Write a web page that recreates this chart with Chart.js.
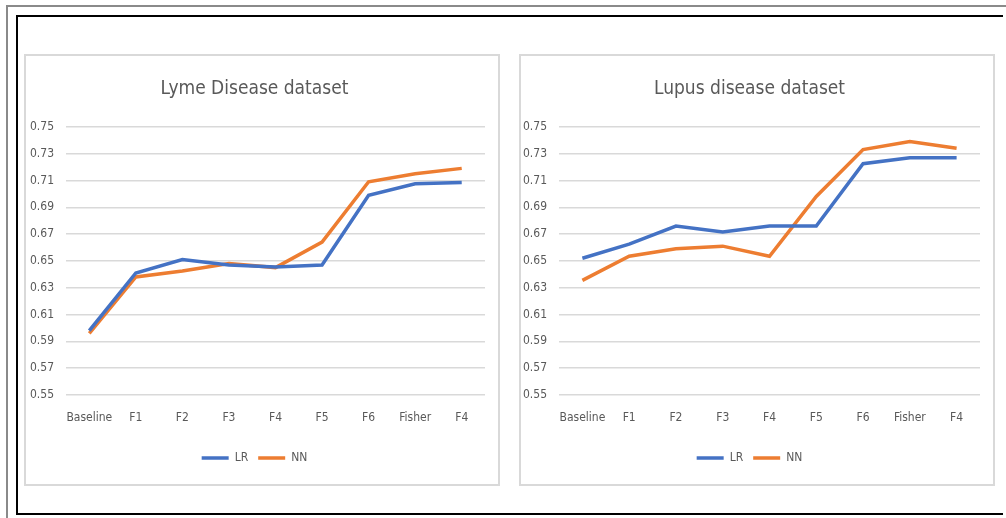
<!DOCTYPE html>
<html>
<head>
<meta charset="utf-8">
<script src="https://cdn.jsdelivr.net/npm/chart.js@4.4.1/dist/chart.umd.min.js"></script>
<style>
  html, body { margin: 0; padding: 0; background: #fff; }
  body { width: 1006px; height: 518px; position: relative; overflow: hidden; }
  .ln { position: absolute; }
  .box { position: absolute; box-sizing: border-box; border: 2px solid #d9d9d9; }
  .cv { position: absolute; width: 476px; height: 432px; }
</style>
</head>
<body>
<!-- page frame -->
<div class="ln" style="left:6px;top:5px;width:1000px;height:2px;background:#8a8a8a"></div>
<div class="ln" style="left:6px;top:5px;width:2px;height:513px;background:#8a8a8a"></div>
<div class="ln" style="left:16px;top:15px;width:987px;height:2px;background:#000"></div>
<div class="ln" style="left:16px;top:15px;width:2px;height:500px;background:#000"></div>
<div class="ln" style="left:16px;top:513px;width:987px;height:2px;background:#000"></div>

<div class="box" style="left:24px;top:54px;width:476px;height:432px"></div>
<div class="box" style="left:519px;top:54px;width:476px;height:432px"></div>
<div class="cv" style="left:24px;top:54px"><canvas id="lymeChart" width="476" height="432"></canvas></div>
<div class="cv" style="left:519px;top:54px"><canvas id="lupusChart" width="476" height="432"></canvas></div>

<script>
const categories = ['Baseline', 'F1', 'F2', 'F3', 'F4', 'F5', 'F6', 'Fisher', 'F4'];
const yTicks = [0.55, 0.57, 0.59, 0.61, 0.63, 0.65, 0.67, 0.69, 0.71, 0.73, 0.75];

const lymeLR = [0.598, 0.641, 0.651, 0.647, 0.6455, 0.647, 0.699, 0.7075, 0.7085];
const lymeNN = [0.596, 0.638, 0.6425, 0.648, 0.645, 0.664, 0.709, 0.715, 0.719];

const lupusLR = [0.652, 0.6625, 0.676, 0.6715, 0.676, 0.676, 0.7225, 0.727, 0.727];
const lupusNN = [0.6355, 0.6535, 0.659, 0.661, 0.6535, 0.698, 0.733, 0.739, 0.734];

const FONT = "'DejaVu Sans', sans-serif";
const BLUE = '#4472c4';
const ORANGE = '#ed7d31';

function makeChart(id, title, lr, nn, yWidth) {
    new Chart(document.getElementById(id), {
        type: 'line',
        data: {
            labels: categories,
            datasets: [
                { label: 'LR', data: lr, borderColor: BLUE, backgroundColor: BLUE, borderWidth: 3.5, pointRadius: 0, pointStyle: 'line', tension: 0 },
                { label: 'NN', data: nn, borderColor: ORANGE, backgroundColor: ORANGE, borderWidth: 3.5, pointRadius: 0, pointStyle: 'line', tension: 0 }
            ]
        },
        options: {
            responsive: false,
            animation: false,
            layout: { padding: { top: 24, right: 15, bottom: 12, left: 0 } },
            plugins: {
                title: {
                    display: true,
                    text: title,
                    color: '#595959',
                    font: { family: FONT, size: 19, weight: 'condensed' },
                    padding: { top: 0, bottom: 26 }
                },
                legend: {
                    position: 'bottom',
                    labels: {
                        usePointStyle: true,
                        pointStyleWidth: 27,
                        color: '#595959',
                        font: { family: FONT, size: 12, weight: 'condensed' },
                        padding: 10
                    }
                },
                tooltip: { enabled: false }
            },
            scales: {
                x: {
                    offset: true,
                    grid: { display: false, drawTicks: false },
                    border: { display: false },
                    ticks: { color: '#595959', font: { family: FONT, size: 12, weight: 'condensed' }, padding: 16, autoSkip: false, maxRotation: 0 },
                    afterFit: s => { s.height = 47; }
                },
                y: {
                    min: 0.55,
                    max: 0.75,
                    afterBuildTicks: s => { s.ticks = yTicks.map(v => ({ value: v })); },
                    grid: { color: '#d9d9d9', lineWidth: 1.5, drawTicks: false },
                    border: { display: false },
                    ticks: { color: '#595959', font: { family: FONT, size: 12, weight: 'condensed' }, padding: 12, callback: v => v.toFixed(2) },
                    afterFit: s => { s.width = yWidth; }
                }
            }
        }
    });
}

makeChart('lymeChart', 'Lyme Disease dataset', lymeLR, lymeNN, 42);
makeChart('lupusChart', 'Lupus disease dataset', lupusLR, lupusNN, 40);
</script>
</body>
</html>
